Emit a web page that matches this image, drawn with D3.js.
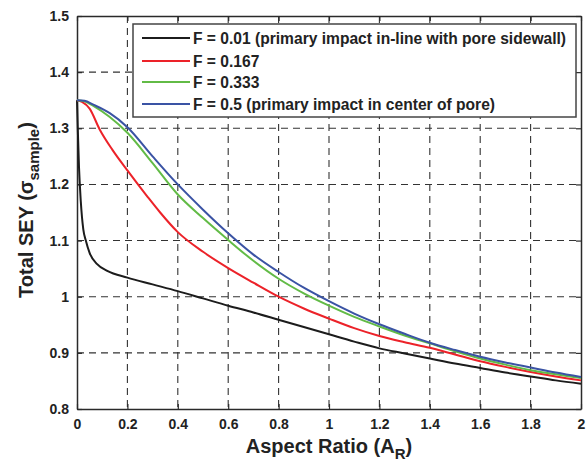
<!DOCTYPE html>
<html>
<head>
<meta charset="utf-8">
<script src="https://cdn.jsdelivr.net/npm/d3@7"></script>
<style>
  body { margin: 0; background: #fff; }
  svg { font-family: "Liberation Sans", Arial, sans-serif; font-weight: bold; }
</style>
</head>
<body>
<svg id="chart" width="586" height="466"></svg>
<script>
// values
const xTicks = [0, 0.2, 0.4, 0.6, 0.8, 1, 1.2, 1.4, 1.6, 1.8, 2];
const yTicks = [0.8, 0.9, 1, 1.1, 1.2, 1.3, 1.4, 1.5];

const blackX = [0, 0.003, 0.008, 0.015, 0.025, 0.035, 0.05, 0.08, 0.12, 0.2, 0.3, 0.4, 0.5, 0.6, 0.7, 0.8, 0.9, 1.0, 1.1, 1.2, 1.3, 1.4, 1.5, 1.6, 1.7, 1.8, 1.9, 2.0];
const blackY = [1.35, 1.30, 1.23, 1.17, 1.12, 1.10, 1.078, 1.058, 1.046, 1.034, 1.022, 1.01, 0.997, 0.984, 0.972, 0.959, 0.946, 0.933, 0.92, 0.908, 0.899, 0.89, 0.881, 0.873, 0.865, 0.858, 0.851, 0.845];

const redX = [0, 0.02, 0.05, 0.09, 0.14, 0.2, 0.28, 0.33, 0.4, 0.5, 0.6, 0.7, 0.8, 0.9, 1.0, 1.1, 1.2, 1.3, 1.4, 1.5, 1.6, 1.7, 1.8, 1.9, 2.0];
const redY = [1.35, 1.347, 1.335, 1.298, 1.262, 1.225, 1.178, 1.15, 1.115, 1.08, 1.051, 1.025, 1.0, 0.979, 0.961, 0.944, 0.93, 0.919, 0.909, 0.897, 0.885, 0.875, 0.866, 0.858, 0.851];

const greenX = [0, 0.03, 0.065, 0.13, 0.2, 0.3, 0.4, 0.5, 0.6, 0.7, 0.8, 0.9, 1.0, 1.1, 1.2, 1.3, 1.4, 1.5, 1.6, 1.7, 1.8, 1.9, 2.0];
const greenY = [1.35, 1.348, 1.34, 1.32, 1.292, 1.238, 1.182, 1.14, 1.101, 1.064, 1.032, 1.006, 0.984, 0.964, 0.947, 0.931, 0.917, 0.903, 0.89, 0.879, 0.869, 0.862, 0.855];

const blueX = greenX;
const blueY = [1.35, 1.349, 1.342, 1.327, 1.302, 1.25, 1.2, 1.155, 1.113, 1.075, 1.044, 1.016, 0.992, 0.97, 0.951, 0.934, 0.918, 0.905, 0.893, 0.883, 0.874, 0.865, 0.857];

const seriesNames = [
  'F = 0.01 (primary impact in-line with pore sidewall)',
  'F = 0.167',
  'F = 0.333',
  'F = 0.5 (primary impact in center of pore)'
];
const seriesColors = ['#1c1c1c', '#ec2229', '#62bb46', '#3a53a4'];

const series = [
  [blackX, blackY], [redX, redY], [greenX, greenY], [blueX, blueY]
].map(function(s, i) {
  return { name: seriesNames[i], color: seriesColors[i], pts: s[0].map(function(x, j) { return [x, s[1][j]]; }) };
});

const svg = d3.select('#chart');
const plotL = 77, plotR = 581, plotT = 16, plotB = 409;

const x = d3.scaleLinear().domain([0, 2]).range([plotL, plotR]);
const y = d3.scaleLinear().domain([0.8, 1.5]).range([plotB, plotT]);

// dashed grid
svg.append('g')
  .selectAll('line')
  .data(xTicks.slice(1, -1))
  .enter().append('line')
    .attr('x1', d => x(d)).attr('x2', d => x(d))
    .attr('y1', plotT).attr('y2', plotB)
    .attr('stroke', '#333').attr('stroke-width', 1.1)
    .attr('stroke-dasharray', '7,5');

svg.append('g')
  .selectAll('line')
  .data(yTicks.slice(1, -1))
  .enter().append('line')
    .attr('y1', d => y(d)).attr('y2', d => y(d))
    .attr('x1', plotL).attr('x2', plotR)
    .attr('stroke', '#333').attr('stroke-width', 1.1)
    .attr('stroke-dasharray', '7,5');

// axes with inward ticks on all four sides
const tickLen = 5;
svg.append('g')
  .attr('transform', 'translate(0,' + plotB + ')')
  .call(d3.axisBottom(x).tickValues(xTicks).tickSizeInner(-tickLen).tickSizeOuter(0).tickPadding(10)
    .tickFormat(d3.format('~g')));
svg.append('g')
  .attr('transform', 'translate(0,' + plotT + ')')
  .call(d3.axisTop(x).tickValues(xTicks).tickSizeInner(-tickLen).tickSizeOuter(0).tickFormat(''));
svg.append('g')
  .attr('transform', 'translate(' + plotL + ',0)')
  .call(d3.axisLeft(y).tickValues(yTicks).tickSizeInner(-tickLen).tickSizeOuter(0).tickPadding(8)
    .tickFormat(d3.format('~g')));
svg.append('g')
  .attr('transform', 'translate(' + plotR + ',0)')
  .call(d3.axisRight(y).tickValues(yTicks).tickSizeInner(-tickLen).tickSizeOuter(0).tickFormat(''));

svg.selectAll('.domain').attr('stroke', '#2a2a2a').attr('stroke-width', 1.5);
svg.selectAll('.tick line').attr('stroke', '#2a2a2a').attr('stroke-width', 1.2);
svg.selectAll('.tick text')
  .attr('font-family', '"Liberation Sans", Arial, sans-serif')
  .attr('font-weight', 'bold')
  .attr('font-size', 14)
  .attr('fill', '#222');

// curves
const line = d3.line().x(d => x(d[0])).y(d => y(d[1])).curve(d3.curveMonotoneX);
svg.append('g')
  .selectAll('path')
  .data(series)
  .enter().append('path')
    .attr('d', d => line(d.pts))
    .attr('fill', 'none')
    .attr('stroke', d => d.color)
    .attr('stroke-width', 2);

// legend
const lg = svg.append('g');
lg.append('rect')
  .attr('x', 133).attr('y', 24).attr('width', 443).attr('height', 93)
  .attr('fill', '#fff').attr('stroke', '#444').attr('stroke-width', 1.5);
const rowY = [38, 61, 82, 104];
series.forEach(function(s, i) {
  lg.append('line')
    .attr('x1', 142).attr('x2', 190)
    .attr('y1', rowY[i]).attr('y2', rowY[i])
    .attr('stroke', s.color).attr('stroke-width', 2.2);
  lg.append('text')
    .attr('x', 193).attr('y', rowY[i] + 5.5)
    .attr('font-size', 15.6)
    .attr('fill', '#222')
    .text(s.name);
});

// axis labels
const xl = svg.append('text')
  .attr('x', 329).attr('y', 453)
  .attr('text-anchor', 'middle')
  .attr('font-size', 20)
  .attr('fill', '#222');
xl.append('tspan').text('Aspect Ratio (A');
xl.append('tspan').attr('font-size', 15).attr('dy', 6).text('R');
xl.append('tspan').attr('dy', -6).text(')');

const yl = svg.append('text')
  .attr('transform', 'translate(33,210) rotate(-90)')
  .attr('text-anchor', 'middle')
  .attr('font-size', 20)
  .attr('fill', '#222');
yl.append('tspan').text('Total SEY (\u03c3');
yl.append('tspan').attr('font-size', 15).attr('dy', 6).text('sample');
yl.append('tspan').attr('dy', -6).text(')');
</script>
</body>
</html>
